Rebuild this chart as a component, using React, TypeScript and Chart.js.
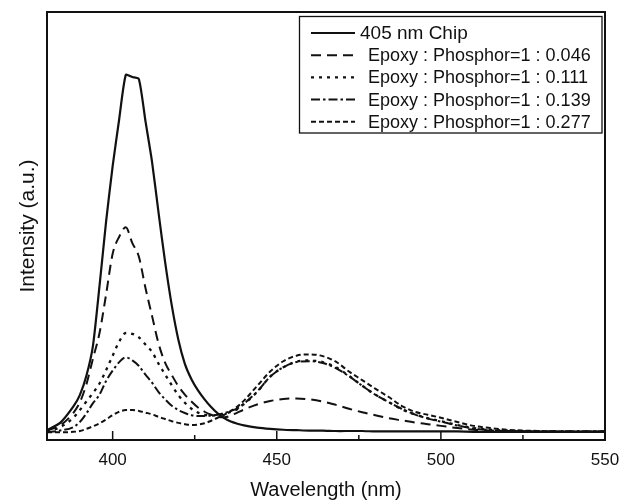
import React, { useEffect, useRef } from 'react';
import { Chart, registerables } from 'chart.js';

Chart.register(...registerables);

const FONT = '"Liberation Sans", Arial, Helvetica, sans-serif';

// Wavelength (nm)
const wavelengths = [
  380, 384, 388, 390, 392, 394, 396, 398, 400, 402, 404, 406, 408, 410, 412, 414, 416, 418, 420, 422,
  424, 426, 428, 430, 432, 434, 436, 438, 440, 444, 448, 452, 456, 460, 464, 468, 472, 476, 480, 484,
  488, 492, 496, 500, 505, 510, 515, 520, 530, 540, 550,
];

// 405 nm Chip
const chip405 = [
  2.3, 4.0, 7.8, 10.5, 15, 22, 36, 51, 64, 75, 85.3, 84.8, 84.3, 74.5, 65, 53, 41.5, 31.5, 23.5, 17.8,
  14.2, 11.6, 9.5, 7.7, 6.2, 5.1, 4.3, 3.8, 3.4, 2.9, 2.6, 2.4, 2.3, 2.2, 2.2, 2.1, 2.1, 2.1, 2.0, 2.0,
  2.0, 2.0, 2.0, 2.0, 2.0, 1.9, 1.9, 1.9, 1.9, 1.9, 1.9,
];

// Epoxy : Phosphor = 1 : 0.046
const ratio0046 = [
  2.2, 3.4, 6.3, 8.8, 13, 19, 25, 34, 43.5, 47.5, 49.7, 46, 42.8, 35.5, 29, 22.5, 18, 15.2, 12.6, 10.6,
  9, 7.6, 6.6, 5.9, 5.4, 5.3, 5.7, 6.4, 7.1, 8.3, 9.1, 9.6, 9.7, 9.5, 9.0, 8.2, 7.3, 6.5, 5.8, 5.1,
  4.6, 4.1, 3.7, 3.3, 2.8, 2.4, 2.2, 2.1, 2.0, 2.0, 2.0,
];

// Epoxy : Phosphor = 1 : 0.111
const ratio0111 = [
  2.0, 3.0, 5.2, 7.0, 9.0, 11.0, 13.2, 16.3, 19.7, 23.0, 25.0, 24.8, 24.0, 22.3, 20.6, 17.8, 15.3, 12.8, 10.5, 8.7,
  7.3, 6.4, 5.9, 5.7, 5.8, 6.1, 6.6, 7.2, 8.4, 11.2, 14.8, 17.0, 18.3, 18.6, 18.2, 17.0, 15.0, 12.7, 10.6, 8.9,
  7.2, 6.0, 5.1, 4.4, 3.5, 2.8, 2.4, 2.2, 2.0, 2.0, 2.0,
];

// Epoxy : Phosphor = 1 : 0.139
const ratio0139 = [
  1.8, 2.2, 3.0, 4.2, 6.2, 8.6, 10.6, 13.8, 16.2, 18.2, 19.3, 18.6, 17.3, 15.3, 13.4, 11.2, 9.5, 8.0, 7.0, 6.3,
  5.8, 5.6, 5.6, 5.7, 5.9, 6.3, 6.8, 7.4, 8.5, 11.3, 14.8, 17.0, 18.2, 18.4, 18.0, 16.8, 14.9, 12.7, 10.6, 8.9,
  7.3, 6.0, 5.0, 4.3, 3.4, 2.7, 2.3, 2.1, 2.0, 2.0, 2.0,
];

// Epoxy : Phosphor = 1 : 0.277
const ratio0277 = [
  1.8, 1.8, 1.9, 2.1, 2.6, 3.2, 3.9, 4.8, 5.8, 6.6, 7.0, 7.0, 6.8, 6.4, 6.0, 5.4, 4.9, 4.4, 4.0, 3.7,
  3.5, 3.6, 3.9, 4.5, 5.2, 5.9, 6.8, 7.8, 9.2, 12.6, 16.0, 18.4, 19.7, 20.0, 19.6, 18.3, 16.0, 14.0, 12.0, 10.1,
  8.0, 6.6, 5.9, 5.2, 4.2, 3.3, 2.8, 2.4, 2.1, 2.0, 2.0,
];

const seriesLabels = [
  '405 nm Chip',
  'Epoxy : Phosphor=1 : 0.046',
  'Epoxy : Phosphor=1 : 0.111',
  'Epoxy : Phosphor=1 : 0.139',
  'Epoxy : Phosphor=1 : 0.277',
];

const xTickValues = [400, 425, 450, 475, 500, 525, 550];
const xLabelValues = [400, 450, 500, 550];

const toPoints = (vals: number[]) => wavelengths.map((w, i) => ({ x: w, y: vals[i] }));

const decorPlugin = {
  id: 'decor',
  afterDraw(chart: any) {
    const { ctx, chartArea: a, scales } = chart;
    const x = scales.x;
    ctx.save();
    ctx.strokeStyle = '#111';
    ctx.setLineDash([]);
    // frame
    ctx.lineWidth = 2;
    ctx.strokeRect(a.left, a.top, a.right - a.left, a.bottom - a.top);
    // inward ticks on bottom axis
    ctx.lineWidth = 1.5;
    xTickValues.forEach((v) => {
      const px = x.getPixelForValue(v);
      const len = xLabelValues.includes(v) ? 9 : 5;
      ctx.beginPath();
      ctx.moveTo(px, a.bottom);
      ctx.lineTo(px, a.bottom - len);
      ctx.stroke();
    });
    // legend box
    const bx = 299.5, by = 16.5, bw = 302.5, bh = 116.5;
    ctx.fillStyle = '#fff';
    ctx.fillRect(bx, by, bw, bh);
    ctx.lineWidth = 1.3;
    ctx.strokeRect(bx, by, bw, bh);
    chart.data.datasets.forEach((ds: any, i: number) => {
      const cy = 33 + i * 22.2;
      ctx.strokeStyle = '#111';
      ctx.lineWidth = ds.borderWidth;
      ctx.setLineDash(ds.borderDash || []);
      ctx.beginPath();
      ctx.moveTo(311, cy);
      ctx.lineTo(355, cy);
      ctx.stroke();
      ctx.setLineDash([]);
      ctx.fillStyle = '#111';
      ctx.font = `${i === 0 ? 19 : 18}px ${FONT}`;
      ctx.textBaseline = 'middle';
      ctx.textAlign = 'left';
      ctx.fillText(ds.label, i === 0 ? 360 : 368, cy + 1);
    });
    ctx.restore();
  },
};

export default function App() {
  const ref = useRef<HTMLCanvasElement>(null);
  useEffect(() => {
    if (!ref.current) return;
    const common = { borderColor: '#111', backgroundColor: '#111', borderWidth: 2, pointRadius: 0, fill: false };
    const chart = new Chart(ref.current, {
      type: 'line',
      data: {
        datasets: [
          { ...common, label: seriesLabels[0], data: toPoints(chip405), tension: 0.2, borderWidth: 2.2 },
          { ...common, label: seriesLabels[1], data: toPoints(ratio0046), cubicInterpolationMode: 'monotone', borderDash: [10, 6] },
          { ...common, label: seriesLabels[2], data: toPoints(ratio0111), cubicInterpolationMode: 'monotone', borderDash: [3, 5], borderWidth: 2.3 },
          { ...common, label: seriesLabels[3], data: toPoints(ratio0139), cubicInterpolationMode: 'monotone', borderDash: [9, 3, 2.5, 3] },
          { ...common, label: seriesLabels[4], data: toPoints(ratio0277), cubicInterpolationMode: 'monotone', borderDash: [5, 3] },
        ] as any,
      },
      options: {
        animation: false,
        responsive: false,
        layout: { padding: { top: 12, right: 27, left: 0, bottom: 0 } },
        plugins: { legend: { display: false }, tooltip: { enabled: false } },
        elements: { point: { radius: 0 } },
        scales: {
          x: {
            type: 'linear',
            min: 380,
            max: 550,
            afterBuildTicks: (s: any) => {
              s.ticks = xTickValues.map((v) => ({ value: v }));
            },
            afterFit: (s: any) => {
              s.height = 62;
            },
            grid: { display: false, drawTicks: false },
            border: { display: false },
            ticks: {
              autoSkip: false,
              maxRotation: 0,
              padding: 10,
              color: '#111',
              font: { family: FONT, size: 17 },
              callback: (v: any) => (xLabelValues.includes(Number(v)) ? String(v) : ''),
            },
            title: {
              display: true,
              text: 'Wavelength (nm)',
              color: '#111',
              font: { family: FONT, size: 20 },
              padding: { top: 0, bottom: 0 },
            },
          },
          y: {
            type: 'linear',
            min: 0,
            max: 100,
            afterFit: (s: any) => {
              s.width = 47;
            },
            grid: { display: false, drawTicks: false },
            border: { display: false },
            ticks: { display: false },
            title: {
              display: true,
              text: 'Intensity (a.u.)',
              color: '#111',
              font: { family: FONT, size: 21 },
              padding: { top: 16, bottom: 0 },
            },
          },
        },
      } as any,
      plugins: [decorPlugin],
    });
    return () => chart.destroy();
  }, []);
  return (
    <div style={{ position: 'absolute', left: 0, top: 0, width: 632, height: 502, background: '#fff' }}>
      <canvas ref={ref} width={632} height={502} style={{ display: 'block' }} />
    </div>
  );
}
